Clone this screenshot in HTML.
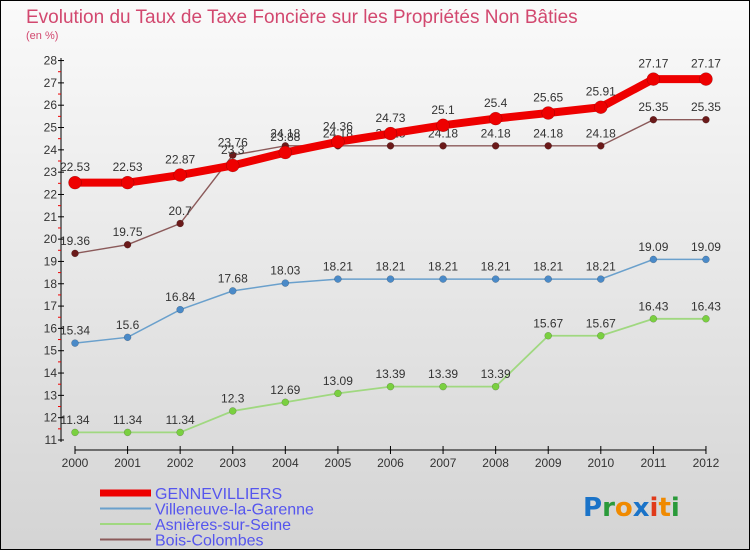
<!DOCTYPE html>
<html><head><meta charset="utf-8"><style>
body{margin:0;width:750px;height:550px;overflow:hidden;font-family:"Liberation Sans",sans-serif}
</style></head><body>
<svg id="chart" width="750" height="550" xmlns="http://www.w3.org/2000/svg">
<defs><linearGradient id="bg" x1="0" y1="0" x2="0" y2="1"><stop offset="0" stop-color="#fafafa"/><stop offset="1" stop-color="#d4d4d4"/></linearGradient></defs>
<rect x="0.5" y="0.5" width="749" height="549" fill="url(#bg)" stroke="#000"/>
<text x="26" y="23" font-size="19" fill="#d2486f">Evolution du Taux de Taxe Foncière sur les Propriétés Non Bâties</text>
<text x="26" y="39" font-size="11" fill="#d2486f">(en %)</text>
<g id="axes"></g><g id="series"></g><g id="legend"></g>
<text x="583" y="516" font-size="26" font-weight="bold" font-family="DejaVu Sans,sans-serif"><tspan fill="#1a73c8">P</tspan><tspan fill="#2a9a3a">r</tspan><tspan fill="#f08a00">o</tspan><tspan fill="#1a73c8">x</tspan><tspan fill="#e03a1a">i</tspan><tspan fill="#f08a00">t</tspan><tspan fill="#2a9a3a">i</tspan></text>
</svg>
<script>
const years=[2000,2001,2002,2003,2004,2005,2006,2007,2008,2009,2010,2011,2012];
const gennevilliers=[22.53,22.53,22.87,23.3,23.88,24.36,24.73,25.1,25.4,25.65,25.91,27.17,27.17];
const villeneuve=[15.34,15.6,16.84,17.68,18.03,18.21,18.21,18.21,18.21,18.21,18.21,19.09,19.09];
const asnieres=[11.34,11.34,11.34,12.3,12.69,13.09,13.39,13.39,13.39,15.67,15.67,16.43,16.43];
const bois=[19.36,19.75,20.7,23.76,24.18,24.18,24.18,24.18,24.18,24.18,24.18,25.35,25.35];
const yTicks=[11,12,13,14,15,16,17,18,19,20,21,22,23,24,25,26,27,28];
const NS="http://www.w3.org/2000/svg";
const X=i=>75+i*52.58, Y=v=>440-(v-11)*22.32;
function mk(p,t,a){const e=document.createElementNS(NS,t);for(const k in a)e.setAttribute(k,a[k]);p.appendChild(e);return e;}
const ax=document.getElementById('axes');
let yl=mk(ax,'line',{x1:61,y1:58,x2:61,y2:442,stroke:'#000'});


yTicks.forEach(v=>{
  mk(ax,'line',{x1:58,y1:Y(v),x2:64,y2:Y(v),stroke:'#000'});
  if(v<28)mk(ax,'line',{x1:58,y1:Y(v+0.5),x2:61,y2:Y(v+0.5),stroke:'#e00'});
  const t=mk(ax,'text',{x:57,y:Y(v)+4,'font-size':12,'text-anchor':'end',fill:'#333'});
  
  
  t.textContent=v;
});
let xl=mk(ax,'line',{x1:75,y1:450,x2:X(12),y2:450,stroke:'#000'});


years.forEach((y,i)=>{
  mk(ax,'line',{x1:X(i),y1:446,x2:X(i),y2:454,stroke:'#000'});
  const t=mk(ax,'text',{x:X(i),y:467,'font-size':12,'text-anchor':'middle',fill:'#333'});
  
  
  t.textContent=y;
});
const sg=document.getElementById('series');
function series(name,vals,color,w,r,dot){
  const g=mk(sg,'g',{});
  
  
  mk(g,'polyline',{points:vals.map((v,i)=>X(i)+','+Y(v)).join(' '),fill:'none',stroke:color,'stroke-width':w});
  vals.forEach((v,i)=>{
    const c=mk(g,'circle',{cx:X(i),cy:Y(v),r:r,fill:dot,stroke:'rgba(0,0,0,0.3)','stroke-width':0.5});
    
    
    const t=mk(g,'text',{x:X(i),y:Y(v)-(r+5),'font-size':12,'text-anchor':'middle',fill:'#333'});
    
    
    t.textContent=String(v);
  });
}
series('bois-colombes',bois,'#8b5a5a',1.4,3.5,'#6b1a1a');
series('asnieres',asnieres,'#a0d880',1.8,3.5,'#7ad040');
series('villeneuve',villeneuve,'#6aa0cc',1.5,3.5,'#4a8ac8');
series('gennevilliers',gennevilliers,'#ee0000',8,6.5,'#ee0000');
const lg=document.getElementById('legend');
[['GENNEVILLIERS','#ee0000',7],['Villeneuve-la-Garenne','#6aa0cc',2],['Asnières-sur-Seine','#a0d880',2],['Bois-Colombes','#8b5a5a',2]].forEach((d,i)=>{
  const y=493+i*15.5;
  const g=mk(lg,'g',{});
  
  
  mk(g,'line',{x1:100,y1:y,x2:151,y2:y,stroke:d[1],'stroke-width':d[2]});
  const t=mk(g,'text',{x:155,y:y+6,'font-size':16,fill:'#5555ee'});
  t.textContent=d[0];
});
</script>
</body></html>
